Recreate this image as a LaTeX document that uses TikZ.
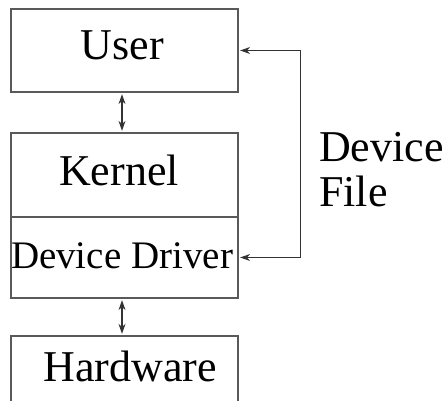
\documentclass[tikz,border=0pt]{standalone}
\usepackage{fontspec}
\setmainfont{Liberation Serif}
\usetikzlibrary{arrows.meta}
\begin{document}
\begin{tikzpicture}[x=1pt,y=-1pt,
  box/.style={draw=black!65, line width=1.3pt, minimum width=227pt, inner sep=0pt},
  lbl/.style={anchor=base, inner sep=0pt, font=\fontsize{44}{50}\selectfont},
  sidelbl/.style={anchor=base west, inner sep=0pt, font=\fontsize{44}{50}\selectfont},
  tip/.tip={Stealth[length=10pt,width=7pt]},
  conn/.style={draw=black!80, line width=1.1pt, tip-tip, shorten <=1.5pt, shorten >=1.5pt}]
\useasboundingbox (0,0) rectangle (448,401);
\clip (0,0) rectangle (448,401);
\node[box, minimum height=83pt] (user) at (124.5,50.5) {};
\node[box, minimum height=84pt] (kernel) at (124.5,175) {};
\node[box, minimum height=81pt] (driver) at (124.5,257.5) {};
\node[box, minimum height=84pt] (hw) at (124.5,378) {};
\node[lbl] (tuser) at (122.5,60) {User};
\node[lbl] (tkernel) at (119,186) {Kernel};
\node[lbl, font=\fontsize{39}{46}\selectfont] (tdriver) at (122,269) {Device Driver};
\node[lbl] (thw) at (130,382) {Hardware};
\node[sidelbl] (tdev) at (319,162) {Device};
\node[sidelbl] (tfile) at (319,207) {File};
\draw[conn] ([xshift=-2.5pt]user.south) -- ([xshift=-2.5pt]kernel.north);
\draw[conn] ([xshift=-2.5pt]driver.south) -- ([xshift=-2.5pt]hw.north);
\draw[conn] (user.east) -- ++(62,0) |- (driver.east);
\end{tikzpicture}
\end{document}
